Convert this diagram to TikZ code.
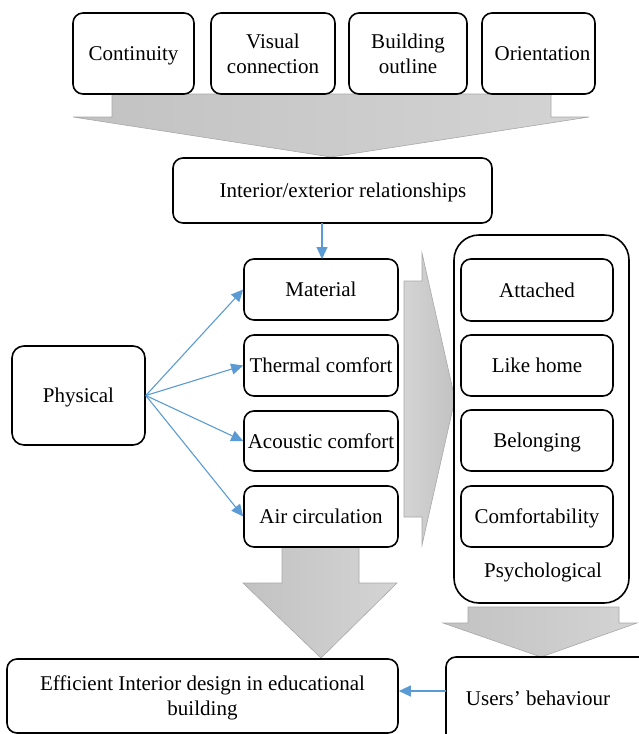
\documentclass[tikz,border=0pt]{standalone}
\usepackage{fontspec}
\setmainfont{Liberation Serif}
\usetikzlibrary{arrows.meta}
\definecolor{linkblue}{RGB}{91,155,213}
\definecolor{garrowL}{RGB}{194,194,194}
\definecolor{garrowR}{RGB}{212,212,212}
\definecolor{garrowE}{RGB}{168,168,168}
\tikzset{
  box/.style={draw=black, line width=1.6pt, rounded corners=10pt, fill=white,
    inner sep=0pt, align=center, text depth=0pt, font=\fontsize{21}{25}\selectfont},
  bigarrow/.style={draw=garrowE, line width=0.6pt, left color=garrowL, right color=garrowR},
  link/.style={draw=linkblue, line width=1.1pt, -{Triangle[length=12pt,width=11pt]}},
}
\begin{document}
\begin{tikzpicture}[x=1pt,y=-1pt]
\useasboundingbox (0,0) rectangle (638,734);
% big grey arrows
\path[bigarrow] (112,94) -- (551,94) -- (551,117) -- (589,117) -- (331,157) -- (73,117) -- (112,117) -- cycle;
\path[bigarrow, left color=garrowR, right color=garrowL] (404,281) -- (422,281) -- (422,253) -- (455,399) -- (422,545) -- (422,517) -- (404,517) -- cycle;
\path[bigarrow] (282,546) -- (359,546) -- (359,583) -- (397,583) -- (321,658) -- (243,583) -- (282,583) -- cycle;
\path[bigarrow] (468,607) -- (619,607) -- (619,623) -- (637,623) -- (541,657) -- (443,623) -- (468,623) -- cycle;
% top boxes
\node[box, minimum width=121pt, minimum height=81pt] (cont) at (133.5,53.5) {Continuity};
\node[box, minimum width=124pt, minimum height=81pt] (vis) at (273,53.5) {Visual\\connection};
\node[box, minimum width=118pt, minimum height=81pt] (bld) at (408,53.5) {Building\\outline};
\node[box, minimum width=113pt, minimum height=81pt] (ori) at (538.5,53.5) {\hspace*{8pt}Orientation};
% interior/exterior
\node[box, minimum width=319pt, minimum height=65pt] (inter) at (332.5,190.5) {\hspace*{21pt}Interior/exterior relationships};
% physical
\node[box, rounded corners=12pt, minimum width=133pt, minimum height=99pt] (phys) at (78.5,395.5) {Physical};
% physical items
\node[box, minimum width=154pt, minimum height=61pt] (mat) at (321,289.5) {Material};
\node[box, minimum width=154pt, minimum height=61pt] (therm) at (321,365.5) {Thermal comfort};
\node[box, minimum width=154pt, minimum height=60pt] (acou) at (321,441) {Acoustic comfort};
\node[box, minimum width=154pt, minimum height=61pt] (air) at (321,516.5) {Air circulation};
% psychological
\node[box, rounded corners=25pt, minimum width=175pt, minimum height=368pt] (psy) at (541.5,419) {};
\node[font=\fontsize{21}{25}\selectfont, inner sep=0pt] (psylab) at (543,572) {Psychological};
\node[box, minimum width=152pt, minimum height=62pt] (att) at (537,290) {Attached};
\node[box, minimum width=152pt, minimum height=61pt] (home) at (537,365.5) {Like home};
\node[box, minimum width=152pt, minimum height=61pt] (bel) at (537,440.5) {Belonging};
\node[box, minimum width=152pt, minimum height=61pt] (comf) at (537,516.5) {Comfortability};
% bottom
\node[box, minimum width=391pt, minimum height=74pt] (eff) at (202.5,696) {Efficient Interior design in educational\\building};
\node[box, minimum width=214pt, minimum height=110pt] (users) at (553,712) {};
\node[font=\fontsize{21}{25}\selectfont, inner sep=0pt] (userslab) at (538,698) {Users’ behaviour};
% blue connectors
\coordinate (ie) at (322,223);
\coordinate (me) at (322,259);
\draw[link] (ie) -- (me);
\draw[link] (phys.east) -- (mat.west);
\draw[link] (phys.east) -- (therm.west);
\draw[link] (phys.east) -- (acou.west);
\draw[link] (phys.east) -- (air.west);
\coordinate (us) at (446,691);
\draw[link] (us) -- (eff.east |- us);
\end{tikzpicture}
\end{document}
